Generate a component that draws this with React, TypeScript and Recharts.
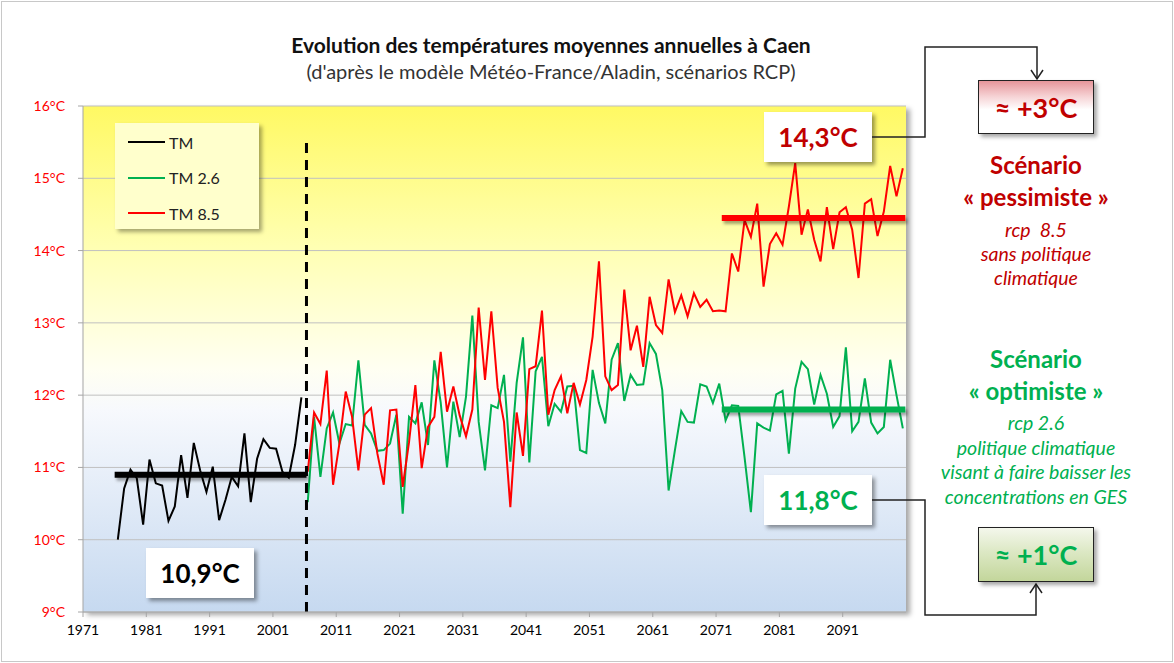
import {
    LineChart,
    Line,
    XAxis,
    YAxis,
    CartesianGrid,
    ReferenceLine
} from 'recharts';

// Observed annual mean temperature (TM), 1976-2005
const tmStart = 1976;
const tmValues = [
    10.00, 10.71, 10.97, 10.85, 10.21, 11.11, 10.78, 10.75, 10.26, 10.46,
    11.17, 10.58, 11.34, 10.96, 10.66, 11.01, 10.27, 10.55, 10.87, 10.74,
    11.47, 10.52, 11.12, 11.39, 11.27, 11.26, 10.94, 10.86, 11.31, 11.97
];

// Aladin projections, 2006-2100
const scenarioStart = 2006;
const rcp26Values = [
    10.52, 11.70, 10.87, 11.54, 11.76, 11.33, 11.60, 11.58, 12.48, 11.59,
    11.47, 11.23, 11.24, 11.33, 11.73, 10.36, 11.70, 11.61, 11.90, 11.31,
    12.48, 11.90, 11.00, 11.91, 11.42, 11.98, 13.10, 11.63, 10.96, 11.86,
    11.82, 12.28, 11.08, 12.17, 12.80, 11.07, 12.33, 12.53, 11.57, 11.88,
    11.77, 12.12, 12.13, 11.24, 11.20, 12.35, 11.89, 11.61, 12.49, 12.72,
    11.92, 12.28, 12.14, 12.15, 12.72, 12.57, 12.07, 10.68, 11.24, 11.78,
    11.63, 11.62, 12.15, 12.12, 11.89, 12.16, 11.65, 11.86, 11.85, 11.14,
    10.38, 11.61, 11.55, 11.51, 12.01, 12.06, 11.19, 12.09, 12.46, 12.36,
    11.87, 12.28, 12.02, 11.56, 11.71, 12.66, 11.50, 11.63, 12.23, 11.62,
    11.47, 11.56, 12.49, 12.00, 11.54
];
const rcp85Values = [
    10.94, 11.76, 11.60, 12.34, 10.76, 11.33, 12.05, 11.70, 10.96, 11.73,
    11.82, 11.19, 10.76, 11.79, 11.80, 10.73, 11.35, 12.14, 10.99, 11.56,
    11.70, 12.60, 11.77, 12.12, 11.72, 11.43, 11.80, 13.21, 12.21, 13.16,
    12.10, 11.63, 10.45, 11.76, 11.16, 12.36, 12.40, 13.17, 11.73, 12.07,
    12.26, 11.75, 12.17, 11.87, 12.21, 12.81, 13.85, 12.26, 12.07, 12.14,
    13.46, 12.62, 12.96, 12.39, 13.36, 12.97, 12.86, 13.60, 13.15, 13.38,
    13.09, 13.41, 13.22, 13.32, 13.16, 13.17, 13.16, 13.96, 13.71, 14.42,
    14.19, 14.65, 13.50, 14.09, 14.24, 14.08, 14.61, 15.21, 14.22, 14.57,
    14.15, 13.85, 14.60, 14.02, 14.53, 14.60, 14.29, 13.62, 14.65, 14.71,
    14.20, 14.54, 15.17, 14.75, 15.14
];

// period means drawn as thick bars
const meanTM = 10.9;
const meanRcp26 = 11.8;
const meanRcp85 = 14.45;
const refPeriod = [1975.5, 2005.8];
const futurePeriod = [2071.4, 2100.4];
const splitYear = 2005.8;

// axes
const yTicks = [9, 10, 11, 12, 13, 14, 15, 16];
const xTicks = [1970.5, 1980.5, 1990.5, 2000.5, 2010.5, 2020.5, 2030.5, 2040.5, 2050.5, 2060.5, 2070.5, 2080.5, 2090.5];

const years = Array.from({ length: 130 }, (_, i) => 1971 + i);
const data = years.map(year => ({
    year,
    tm: year >= tmStart && year < tmStart + tmValues.length ? tmValues[year - tmStart] : null,
    rcp26: year >= scenarioStart ? rcp26Values[year - scenarioStart] : null,
    rcp85: year >= scenarioStart ? rcp85Values[year - scenarioStart] : null
}));

const FONT = 'Lato, "Open Sans", sans-serif';
const DARK_RED = '#C00000';
const GREEN = '#00B050';

const legendItems = [
    { label: 'TM', color: '#000000' },
    { label: 'TM 2.6', color: GREEN },
    { label: 'TM 8.5', color: '#FF0000' }
];

const valueBox = (left: number, top: number, text: string, color: string) => (
    <div
        style={{
            position: 'absolute',
            left,
            top,
            width: 108,
            height: 50,
            background: '#fff',
            boxShadow: '3px 3px 4px rgba(0,0,0,0.4)',
            display: 'flex',
            alignItems: 'center',
            justifyContent: 'center',
            fontWeight: 700,
            fontSize: 26,
            color
        }}
    >
        {text}
    </div>
);

export default function App() {
    return (
        <div
            style={{
                position: 'absolute',
                left: 0,
                top: 0,
                width: 1174,
                height: 663,
                background: '#fff',
                fontFamily: FONT,
                overflow: 'hidden'
            }}
        >
            {/* shadow behind plot area */}
            <div
                style={{
                    position: 'absolute',
                    left: 83,
                    top: 106,
                    width: 823,
                    height: 506,
                    boxShadow: '4px 3px 5px rgba(0,0,0,0.35)'
                }}
            />

            <div style={{ position: 'absolute', left: 0, top: 0 }}>
                <LineChart
                    width={1174}
                    height={663}
                    data={data}
                    margin={{ top: 106, right: 268, left: 23, bottom: 21 }}
                >
                    <defs>
                        <linearGradient id="plotBg" x1="0" y1="0" x2="0" y2="1">
                            <stop offset="0%" stopColor="#FFF963" />
                            <stop offset="28%" stopColor="#FFFFB3" />
                            <stop offset="52%" stopColor="#FFFFF2" />
                            <stop offset="60%" stopColor="#F7F9FD" />
                            <stop offset="100%" stopColor="#C6D9F0" />
                        </linearGradient>
                        <filter id="barShadow" filterUnits="userSpaceOnUse" x="0" y="0" width="1174" height="663">
                            <feDropShadow dx="2" dy="3" stdDeviation="1.5" floodColor="#000" floodOpacity="0.35" />
                        </filter>
                    </defs>
                    <CartesianGrid
                        vertical={false}
                        stroke="#C0C0C0"
                        fill="url(#plotBg)"
                        fillOpacity={1}
                    />
                    <XAxis
                        dataKey="year"
                        type="number"
                        domain={[1970.5, 2100.5]}
                        ticks={xTicks}
                        tickFormatter={(v: number) => `${v + 0.5}`}
                        stroke="#A6A6A6"
                        tickSize={5}
                        tickMargin={8}
                        tick={{ fill: '#000', fontSize: 14, fontFamily: FONT }}
                        height={30}
                        allowDataOverflow
                    />
                    <YAxis
                        type="number"
                        domain={[9, 16]}
                        ticks={yTicks}
                        tickFormatter={(v: number) => `${v}°C`}
                        stroke="#A6A6A6"
                        tickSize={5}
                        tickMargin={13}
                        tick={{ fill: '#FF0000', fontSize: 14, fontFamily: FONT }}
                        width={60}
                        allowDataOverflow
                    />
                    <Line
                        type="linear"
                        dataKey="tm"
                        stroke="#000000"
                        strokeWidth={2}
                        dot={false}
                        isAnimationActive={false}
                    />
                    <Line
                        type="linear"
                        dataKey="rcp26"
                        stroke={GREEN}
                        strokeWidth={2}
                        dot={false}
                        isAnimationActive={false}
                    />
                    <Line
                        type="linear"
                        dataKey="rcp85"
                        stroke="#FF0000"
                        strokeWidth={2}
                        dot={false}
                        isAnimationActive={false}
                    />
                    <ReferenceLine
                        segment={[{ x: splitYear, y: 9 }, { x: splitYear, y: 15.5 }]}
                        stroke="#000"
                        strokeWidth={3}
                        strokeDasharray="10 7"
                    />
                    <ReferenceLine
                        segment={[{ x: refPeriod[0], y: meanTM }, { x: refPeriod[1], y: meanTM }]}
                        stroke="#000"
                        strokeWidth={6}
                        filter="url(#barShadow)"
                    />
                    <ReferenceLine
                        segment={[{ x: futurePeriod[0], y: meanRcp85 }, { x: futurePeriod[1], y: meanRcp85 }]}
                        stroke="#FF0000"
                        strokeWidth={6}
                        filter="url(#barShadow)"
                    />
                    <ReferenceLine
                        segment={[{ x: futurePeriod[0], y: meanRcp26 }, { x: futurePeriod[1], y: meanRcp26 }]}
                        stroke={GREEN}
                        strokeWidth={6}
                        filter="url(#barShadow)"
                    />
                </LineChart>
            </div>

            {/* title */}
            <div
                style={{
                    position: 'absolute',
                    left: 150,
                    width: 802,
                    top: 32,
                    textAlign: 'center',
                    fontWeight: 700,
                    fontSize: 21,
                    color: '#111',
                    lineHeight: '26px'
                }}
            >
                Evolution des températures moyennes annuelles à Caen
            </div>
            <div
                style={{
                    position: 'absolute',
                    left: 150,
                    width: 802,
                    top: 58,
                    textAlign: 'center',
                    fontSize: 20,
                    color: '#333',
                    lineHeight: '26px'
                }}
            >
                (d'après le modèle Météo-France/Aladin, scénarios RCP)
            </div>

            {/* legend */}
            <div
                style={{
                    position: 'absolute',
                    left: 115,
                    top: 123,
                    width: 144,
                    height: 106,
                    background: '#FFFFCC',
                    boxShadow: '3px 3px 4px rgba(0,0,0,0.35)'
                }}
            >
                {legendItems.map((item, i) => (
                    <div
                        key={item.label}
                        style={{
                            position: 'absolute',
                            left: 13,
                            top: 8 + i * 35.5,
                            height: 22,
                            display: 'flex',
                            alignItems: 'center',
                            fontSize: 16,
                            color: '#222'
                        }}
                    >
                        <span style={{ display: 'inline-block', width: 37, height: 2, background: item.color, marginRight: 4 }} />
                        {item.label}
                    </div>
                ))}
            </div>

            {valueBox(146, 548, '10,9°C', '#000')}
            {valueBox(764, 112, '14,3°C', DARK_RED)}
            {valueBox(764, 475, '11,8°C', GREEN)}

            {/* connectors */}
            <svg width={1174} height={663} style={{ position: 'absolute', left: 0, top: 0, pointerEvents: 'none' }}>
                <polyline points="872,137 925,137 925,47 1037,47 1037,79" fill="none" stroke="#222" strokeWidth={1.5} />
                <polyline points="1031,70 1037,79 1043,70" fill="none" stroke="#222" strokeWidth={1.5} />
                <polyline points="872,500 925,500 925,615 1036,615 1036,584" fill="none" stroke="#222" strokeWidth={1.5} />
                <polyline points="1030,593 1036,584 1042,593" fill="none" stroke="#222" strokeWidth={1.5} />
            </svg>

            {/* delta boxes */}
            <div
                style={{
                    position: 'absolute',
                    left: 978,
                    top: 80,
                    width: 116,
                    height: 54,
                    boxSizing: 'border-box',
                    border: '1px solid #222',
                    background: 'linear-gradient(to bottom, #E6959A 0%, #F6D3D5 30%, #FFFFFF 55%, #FFFFFF 100%)',
                    boxShadow: '3px 3px 4px rgba(0,0,0,0.35)',
                    display: 'flex',
                    alignItems: 'center',
                    justifyContent: 'center',
                    fontWeight: 700,
                    fontSize: 27,
                    color: DARK_RED
                }}
            >
                ≈ +3°C
            </div>
            <div
                style={{
                    position: 'absolute',
                    left: 978,
                    top: 527,
                    width: 116,
                    height: 55,
                    boxSizing: 'border-box',
                    border: '1px solid #222',
                    background: 'linear-gradient(to bottom, #F4F7EC 0%, #DCE8C4 45%, #C3D69B 100%)',
                    boxShadow: '3px 3px 4px rgba(0,0,0,0.35)',
                    display: 'flex',
                    alignItems: 'center',
                    justifyContent: 'center',
                    fontWeight: 700,
                    fontSize: 27,
                    color: GREEN
                }}
            >
                ≈ +1°C
            </div>

            {/* scenario notes */}
            <div style={{ position: 'absolute', left: 916, width: 240, top: 149, textAlign: 'center', color: DARK_RED }}>
                <div style={{ fontWeight: 700, fontSize: 24, lineHeight: '32px' }}>Scénario</div>
                <div style={{ fontWeight: 700, fontSize: 24, lineHeight: '32px' }}>« pessimiste »</div>
                <div style={{ fontStyle: 'italic', fontSize: 19.5, lineHeight: '24px', marginTop: 5 }}>
                    rcp&nbsp; 8.5<br />sans politique<br />climatique
                </div>
            </div>
            <div style={{ position: 'absolute', left: 896, width: 280, top: 343, textAlign: 'center', color: GREEN }}>
                <div style={{ fontWeight: 700, fontSize: 24, lineHeight: '32px' }}>Scénario</div>
                <div style={{ fontWeight: 700, fontSize: 24, lineHeight: '32px' }}>« optimiste »</div>
                <div style={{ fontStyle: 'italic', fontSize: 19.5, lineHeight: '24.7px', marginTop: 4 }}>
                    rcp 2.6<br />politique climatique<br />visant à faire baisser les<br />concentrations en GES
                </div>
            </div>

            {/* outer frame */}
            <div
                style={{
                    position: 'absolute',
                    left: 1,
                    top: 1,
                    width: 1172,
                    height: 661,
                    boxSizing: 'border-box',
                    border: '1px solid #C8C8C8',
                    pointerEvents: 'none'
                }}
            />
        </div>
    );
}
